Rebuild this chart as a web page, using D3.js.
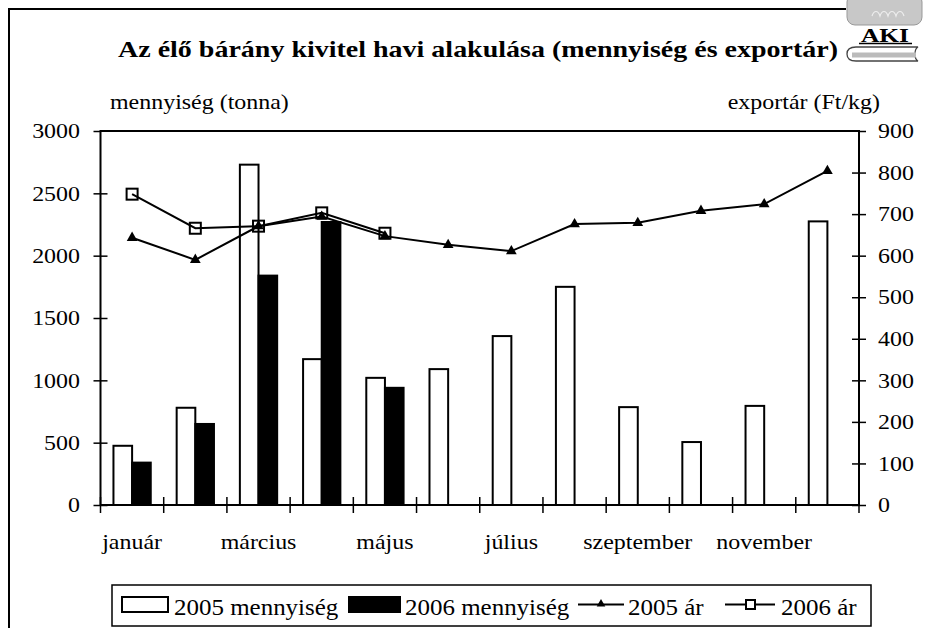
<!DOCTYPE html>
<html>
<head>
<meta charset="utf-8">
<script src="https://cdn.jsdelivr.net/npm/d3@7"></script>
<style>
  body { margin: 0; background: #fff; }
</style>
</head>
<body>
<script>
"use strict";

// Data.
const months = ["január", "február", "március", "április", "május", "június",
  "július", "augusztus", "szeptember", "október", "november", "december"];
const qty2005 = [475, 780, 2730, 1170, 1020, 1090, 1355, 1750, 785, 505, 795, 2275];
const qty2006 = [340, 650, 1840, 2270, 940, null, null, null, null, null, null, null];
const price2005 = [643, 590, 671, 694, 647, 626, 611, 676, 679, 708, 724, 804];
const price2006 = [748, 666, 671, 703, 654, null, null, null, null, null, null, null];
const leftTicks = [0, 500, 1000, 1500, 2000, 2500, 3000];
const rightTicks = [0, 100, 200, 300, 400, 500, 600, 700, 800, 900];
const legendLabels = ["2005 mennyiség", "2006 mennyiség", "2005 ár", "2006 ár"];

const W = 925, H = 628;
const plot = {left: 100.5, right: 859, top: 131, bottom: 505};
const FONT = "Liberation Serif";
const SX = 1.14; // the reference text is a bit wide

const svg = d3.select("body").append("svg")
  .attr("width", W).attr("height", H)
  .attr("font-family", FONT);

// serif font, widened with textLength
function stretch(sel, f) {
  f = f || SX;
  sel.attr("font-family", FONT).attr("fill", "#000");
  sel.each(function() {
    const len = this.getComputedTextLength();
    if (len > 0) {
      d3.select(this).attr("textLength", len * f).attr("lengthAdjust", "spacingAndGlyphs");
    }
  });
}

// Scales
const x0 = d3.scaleBand().domain(months).range([plot.left, plot.right]).padding(0);
const pairW = x0.bandwidth() * 0.59;
const x1 = d3.scaleBand().domain(["2005", "2006"]).range([0, pairW]).padding(0);
const yL = d3.scaleLinear().domain([0, 3000]).range([plot.bottom, plot.top]);
const yR = d3.scaleLinear().domain([0, 900]).range([plot.bottom, plot.top]);

// Outer frame (top + left edges)
svg.append("path")
  .attr("d", "M9,628V9H846")
  .attr("fill", "none").attr("stroke", "#000").attr("stroke-width", 2);

// Title
svg.append("text")
  .attr("x", 478).attr("y", 57)
  .attr("text-anchor", "middle")
  .attr("font-size", 24).attr("font-weight", "bold")
  .attr("font-family", FONT)
  .text("Az élő bárány kivitel havi alakulása (mennyiség és exportár)")
  .attr("textLength", 720).attr("lengthAdjust", "spacingAndGlyphs");

// Logo (rough)
const logo = svg.append("g");
logo.append("rect").attr("x", 847).attr("y", -6).attr("width", 75).attr("height", 31)
  .attr("rx", 8).attr("fill", "#c8c8c8").attr("stroke", "#999").attr("stroke-width", 1);
logo.append("path").attr("d", "M872,16c2,-6 6,-6 8,0c2,-6 6,-6 8,0c2,-6 6,-6 8,0c2,-6 6,-6 8,0")
  .attr("fill", "none").attr("stroke", "#eee").attr("stroke-width", 1.2);
logo.append("text").attr("x", 885).attr("y", 42).attr("text-anchor", "middle")
  .attr("font-size", 18).attr("font-weight", "bold")
  .attr("font-family", FONT).text("AKI")
  .attr("textLength", 48).attr("lengthAdjust", "spacingAndGlyphs");
logo.append("line").attr("x1", 859).attr("x2", 912).attr("y1", 43.5).attr("y2", 43.5)
  .attr("stroke", "#000").attr("stroke-width", 1.5);
logo.append("path").attr("d", "M856,47H918c-4,2 -4,12 0,14H856c-6,0 -9,-3 -9,-7c0,-4 3,-7 9,-7Z")
  .attr("fill", "#fff").attr("stroke", "#444").attr("stroke-width", 1.3);
logo.append("path").attr("d", "M852,55H916")
  .attr("stroke", "#bbb").attr("stroke-width", 5);

// Axis titles
svg.append("text").attr("x", 110).attr("y", 109).attr("font-size", 21)
  .text("mennyiség (tonna)").call(stretch);
svg.append("text").attr("x", 880).attr("y", 109).attr("font-size", 21)
  .attr("text-anchor", "end").text("exportár (Ft/kg)").call(stretch);

// Bars
const bars = svg.append("g");
months.forEach((m, i) => {
  const gx = x0(m) + (x0.bandwidth() - pairW) / 2;
  if (qty2005[i] != null) {
    bars.append("rect")
      .attr("x", gx + x1("2005")).attr("width", x1.bandwidth())
      .attr("y", yL(qty2005[i])).attr("height", yL(0) - yL(qty2005[i]))
      .attr("fill", "#fff").attr("stroke", "#000").attr("stroke-width", 2);
  }
  if (qty2006[i] != null) {
    bars.append("rect")
      .attr("x", gx + x1("2006")).attr("width", x1.bandwidth())
      .attr("y", yL(qty2006[i])).attr("height", yL(0) - yL(qty2006[i]))
      .attr("fill", "#000").attr("stroke", "#000").attr("stroke-width", 2);
  }
});

// Plot frame
svg.append("rect")
  .attr("x", plot.left).attr("y", plot.top)
  .attr("width", plot.right - plot.left).attr("height", plot.bottom - plot.top)
  .attr("fill", "none").attr("stroke", "#000").attr("stroke-width", 2);

// Left axis, ticks crossing the line
const axL = svg.append("g").attr("transform", `translate(${plot.left},0)`)
  .call(d3.axisLeft(yL).tickValues(leftTicks).tickFormat(d3.format("d"))
    .tickSize(7).tickPadding(13.5));
axL.attr("font-family", FONT).attr("font-size", 21);
axL.select(".domain").remove();
axL.selectAll(".tick line").attr("x2", -7).attr("x1", 7).attr("stroke-width", 1.5);
axL.selectAll(".tick line").filter(d => d === 3000).attr("x1", 0);
axL.selectAll(".tick text").call(stretch);

// Right axis
const axR = svg.append("g").attr("transform", `translate(${plot.right},0)`)
  .call(d3.axisRight(yR).tickValues(rightTicks).tickFormat(d3.format("d"))
    .tickSize(7).tickPadding(12));
axR.attr("font-family", FONT).attr("font-size", 21);
axR.select(".domain").remove();
axR.selectAll(".tick line").attr("x1", -7).attr("x2", 7).attr("stroke-width", 1.5);
axR.selectAll(".tick line").filter(d => d === 900).attr("x1", 0);
axR.selectAll(".tick text").call(stretch);

// Bottom axis: labels on every other month, ticks on category edges
const axB = svg.append("g").attr("transform", `translate(0,${plot.bottom})`)
  .call(d3.axisBottom(x0).tickSize(0).tickPadding(29)
    .tickFormat((d, i) => i % 2 === 0 ? d : ""));
axB.attr("font-family", FONT).attr("font-size", 21);
axB.select(".domain").remove();
axB.selectAll(".tick text").call(stretch);
axB.selectAll(".edge").data(months.map(m => x0(m)).concat([plot.right]))
  .enter().append("line").attr("class", "edge")
  .attr("x1", d => d).attr("x2", d => d).attr("y1", -8).attr("y2", 8)
  .attr("stroke", "#000").attr("stroke-width", 1.5);

// Price lines
const cx = (m) => x0(m) + x0.bandwidth() / 2;
const line = d3.line().defined(d => d[1] != null)
  .x(d => cx(d[0])).y(d => yR(d[1]));
const tri = d3.symbol().type(d3.symbolTriangle).size(50);

svg.append("path").datum(months.map((m, i) => [m, price2005[i]]))
  .attr("d", line).attr("fill", "none").attr("stroke", "#000").attr("stroke-width", 2);
svg.append("path").datum(months.map((m, i) => [m, price2006[i]]))
  .attr("d", line).attr("fill", "none").attr("stroke", "#000").attr("stroke-width", 2);

svg.selectAll(".tri").data(months.map((m, i) => [m, price2005[i]]))
  .enter().append("path").attr("class", "tri")
  .attr("transform", d => `translate(${cx(d[0])},${yR(d[1])})`)
  .attr("d", tri).attr("fill", "#000");
svg.selectAll(".sq").data(months.map((m, i) => [m, price2006[i]]).filter(d => d[1] != null))
  .enter().append("rect").attr("class", "sq")
  .attr("x", d => cx(d[0]) - 5.5).attr("y", d => yR(d[1]) - 5.5)
  .attr("width", 11).attr("height", 11)
  .attr("fill", "none").attr("stroke", "#000").attr("stroke-width", 2);

// Legend
const lg = svg.append("g");
lg.append("rect").attr("x", 112).attr("y", 585).attr("width", 759).attr("height", 41)
  .attr("fill", "#fff").attr("stroke", "#000").attr("stroke-width", 1.5);
lg.append("rect").attr("x", 122).attr("y", 597).attr("width", 46).attr("height", 15)
  .attr("fill", "#fff").attr("stroke", "#000").attr("stroke-width", 2);
lg.append("rect").attr("x", 349).attr("y", 597).attr("width", 51).attr("height", 15)
  .attr("fill", "#000").attr("stroke", "#000").attr("stroke-width", 2);
lg.append("line").attr("x1", 578).attr("x2", 624).attr("y1", 604.5).attr("y2", 604.5)
  .attr("stroke", "#000").attr("stroke-width", 2);
lg.append("path").attr("transform", "translate(601,604)")
  .attr("d", d3.symbol().type(d3.symbolTriangle).size(32)).attr("fill", "#000");
lg.append("line").attr("x1", 725).attr("x2", 775).attr("y1", 604.5).attr("y2", 604.5)
  .attr("stroke", "#000").attr("stroke-width", 2);
lg.append("rect").attr("x", 746).attr("y", 600).attr("width", 9).attr("height", 9)
  .attr("fill", "#fff").attr("stroke", "#000").attr("stroke-width", 2);
const legX = [174, 405, 628, 781];
lg.selectAll(".lt").data(legendLabels).enter().append("text").attr("class", "lt")
  .attr("x", (d, i) => legX[i]).attr("y", 615).attr("font-size", 24)
  .text(d => d).call(stretch, 1.04);
</script>
</body>
</html>
